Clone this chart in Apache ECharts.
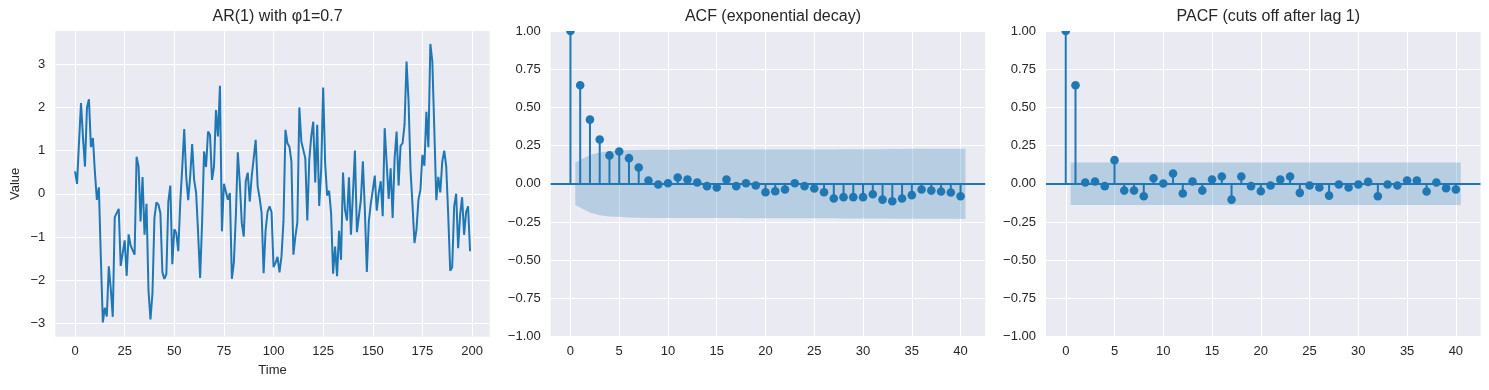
<!DOCTYPE html>
<html>
<head>
<meta charset="utf-8">
<script src="https://cdn.jsdelivr.net/npm/echarts@6/dist/echarts.min.js"></script>
<style>
html,body{margin:0;padding:0;background:#fff;}
#c{width:1489px;height:390px;}
</style>
</head>
<body>
<div id="c"></div>
<script>
// ---- data ----
const arValues = [
0.52, 0.23, 1.2, 2.1, 1.3, 0.63, 2.0, 2.19, 1.08, 1.29,
0.5, -0.14, 0.15, -1.5, -2.98, -2.64, -2.84, -1.68, -2.2, -2.85,
-0.54, -0.56, -0.35, -1.67, -1.70, -1.08, -1.9, -0.94, -1.2, -1.23,
-1.41, 0.86, 0.63, -0.64, 0.39, -0.95, -0.23, -2.24, -2.91, -2.3,
-0.56, -0.2, -0.25, -0.45, -1.82, -1.97, -1.86, -0.18, 0.19, -1.63,
-0.82, -0.91, -1.33, -0.2, 0.6, 1.5, 0.4, -0.15, 0.4, 1.15,
0.32, 0.02, -0.91, -1.95, -0.68, 0.98, 0.62, 1.44, 1.36, 0.32,
0.63, 1.94, 1.33, 2.5, -0.87, 0.23, 0.25, -0.14, 0.02, -1.97,
-1.6, -0.52, 0.96, 0.25, -0.68, -0.99, 0.29, 0.49, -0.18, 0.4,
0.39, 1.25, 0.17, -0.1, -0.45, -1.84, -0.85, -0.41, -0.29, -0.43,
-1.7, -1.6, -1.46, -1.82, -1.45, -0.64, 1.48, 1.17, 1.09, 0.75,
-1.41, -0.99, -0.66, 2.0, 1.21, 1.17, 0.82, -0.62, 0.79, 1.33,
1.67, 0.26, 1.6, -0.28, 0.56, 2.46, 0.71, -0.04, 0.07, -0.45,
-1.85, -1.22, -1.91, -0.86, -1.53, 0.49, -0.37, -0.62, 0.38, -0.95,
0.0, 1.0, -0.89, -0.52, -0.14, 0.75, -0.37, -1.81, -0.64, -0.22,
0.08, 0.42, -0.39, 0.02, 0.29, -0.52, 1.52, 1.53, -0.12, 0.59,
-0.56, 0.82, 1.44, 0.19, 1.11, 1.17, 1.6, 3.06, 2.17, 0.56,
-0.25, -1.14, -0.83, -0.14, 0.09, 0.9, 0.65, 1.9, 1.08, 3.47,
3.06, 1.48, -0.15, 0.39, 0.03, 0.75, 1.0, 0.63, -0.49, -1.78,
-1.7, -0.29, 0.0, -1.26, -0.49, -0.08, -0.95, -0.43, -0.29, -1.33
];

const acfValues = [
1.0, 0.645, 0.42, 0.29, 0.186, 0.212, 0.168, 0.107, 0.022, -0.004,
0.004, 0.042, 0.028, 0.009, -0.015, -0.024, 0.028, -0.015, 0.004, -0.011,
-0.055, -0.048, -0.037, 0.004, -0.015, -0.03, -0.055, -0.096, -0.087, -0.087,
-0.087, -0.068, -0.103, -0.114, -0.096, -0.074, -0.037, -0.044, -0.05, -0.057,
-0.081
];

const pacfValues = [
1.0, 0.645, 0.009, 0.015, -0.015, 0.155, -0.044, -0.044, -0.081, 0.037,
0.002, 0.068, -0.063, 0.015, -0.044, 0.028, 0.048, -0.103, 0.048, -0.015,
-0.048, -0.011, 0.028, 0.048, -0.059, -0.011, -0.024, -0.077, -0.004, -0.024,
-0.004, 0.013, -0.081, -0.004, -0.011, 0.022, 0.022, -0.05, 0.009, -0.028,
-0.037
];

// half-width of confidence band for lags 1..40 (ACF)
const acfBand = [
0.139, 0.188, 0.205, 0.213, 0.216, 0.220, 0.222, 0.223, 0.223, 0.223,
0.223, 0.224, 0.224, 0.224, 0.224, 0.224, 0.224, 0.225, 0.225, 0.225,
0.225, 0.225, 0.225, 0.225, 0.225, 0.225, 0.225, 0.226, 0.226, 0.227,
0.227, 0.227, 0.228, 0.228, 0.229, 0.229, 0.229, 0.229, 0.229, 0.230
];
const pacfBand = [
0.139, 0.139, 0.139, 0.139, 0.139, 0.139, 0.139, 0.139, 0.139, 0.139,
0.139, 0.139, 0.139, 0.139, 0.139, 0.139, 0.139, 0.139, 0.139, 0.139,
0.139, 0.139, 0.139, 0.139, 0.139, 0.139, 0.139, 0.139, 0.139, 0.139,
0.139, 0.139, 0.139, 0.139, 0.139, 0.139, 0.139, 0.139, 0.139, 0.139
];

const timeTicks = [0, 25, 50, 75, 100, 125, 150, 175, 200];
const valueTicks = [-3, -2, -1, 0, 1, 2, 3];
const lagTicks = [0, 5, 10, 15, 20, 25, 30, 35, 40];
const titles = ['AR(1) with \u03c61=0.7', 'ACF (exponential decay)', 'PACF (cuts off after lag 1)'];

// ---- styling / layout ----
const BLUE = '#1f77b4';
const TXT = '#262626';
const FONT = '"Liberation Sans", Arial, sans-serif';
const grids = [
  {left: 55.3, top: 31, width: 434.5, height: 305.7},
  {left: 550.7, top: 31, width: 434.5, height: 305.7},
  {left: 1046, top: 31, width: 434.5, height: 305.7}
];
const minus = v => String(v).replace('-', '\u2212');
const fmt2 = v => minus(v.toFixed(2));

function baseAxis(extra) {
  return Object.assign({
    axisLine: {show: false},
    axisTick: {show: false},
    splitLine: {show: true, lineStyle: {color: '#ffffff', width: 1}},
    axisLabel: {color: TXT, fontSize: 13, fontFamily: FONT}
  }, extra);
}

const xAxes = [
  baseAxis({type: 'value', gridIndex: 0, min: -9.95, max: 208.95,
    axisTick: {show: false, customValues: timeTicks},
    axisLabel: {color: TXT, fontSize: 13, fontFamily: FONT, margin: 8, customValues: timeTicks, formatter: v => minus(v)},
    name: 'Time', nameLocation: 'middle', nameGap: 27,
    nameTextStyle: {color: TXT, fontSize: 13, fontFamily: FONT}}),
  baseAxis({type: 'value', gridIndex: 1, min: -2.025, max: 42.525,
    axisTick: {show: false, customValues: lagTicks},
    axisLabel: {color: TXT, fontSize: 13, fontFamily: FONT, margin: 8, customValues: lagTicks}}),
  baseAxis({type: 'value', gridIndex: 2, min: -2.025, max: 42.525,
    axisTick: {show: false, customValues: lagTicks},
    axisLabel: {color: TXT, fontSize: 13, fontFamily: FONT, margin: 8, customValues: lagTicks}})
];
const yAxes = [
  baseAxis({type: 'value', gridIndex: 0, min: -3.31, max: 3.77,
    axisTick: {show: false, customValues: valueTicks},
    axisLabel: {color: TXT, fontSize: 13, fontFamily: FONT, margin: 10, customValues: valueTicks, formatter: v => minus(v)},
    name: 'Value', nameLocation: 'middle', nameGap: 33, nameRotate: 90,
    nameTextStyle: {color: TXT, fontSize: 13, fontFamily: FONT}}),
  baseAxis({type: 'value', gridIndex: 1, min: -1, max: 1, interval: 0.25,
    axisLabel: {color: TXT, fontSize: 13, fontFamily: FONT, margin: 10, formatter: fmt2}}),
  baseAxis({type: 'value', gridIndex: 2, min: -1, max: 1, interval: 0.25,
    axisLabel: {color: TXT, fontSize: 13, fontFamily: FONT, margin: 10, formatter: fmt2}})
];

function bandSeries(idx, band) {
  // band drawn from lag 1 (shifted to 0.5) to lag 40 (shifted to 40.5)
  const xs = band.map((_, i) => i + 1);
  xs[0] -= 0.5; xs[xs.length - 1] += 0.5;
  return {
    type: 'custom', xAxisIndex: idx, yAxisIndex: idx, silent: true, z: 1,
    data: [[0, 0]],
    renderItem: (params, api) => {
      const up = xs.map((x, i) => api.coord([x, band[i]]));
      const lo = xs.map((x, i) => api.coord([x, -band[i]])).reverse();
      return {type: 'polygon', shape: {points: up.concat(lo)},
        style: {fill: 'rgba(31,119,180,0.25)'}};
    },
    markLine: {silent: true, symbol: 'none', label: {show: false},
      lineStyle: {color: BLUE, width: 2, type: 'solid'},
      data: [{yAxis: 0}], animation: false}
  };
}

function stemSeries(idx, vals) {
  return {
    type: 'custom', xAxisIndex: idx, yAxisIndex: idx, silent: true, z: 3, clip: true,
    data: vals.map((v, i) => [i, v]),
    renderItem: (params, api) => {
      const x = api.value(0), y = api.value(1);
      const p0 = api.coord([x, 0]), p1 = api.coord([x, y]);
      return {type: 'group', children: [
        {type: 'line', shape: {x1: p0[0], y1: p0[1], x2: p1[0], y2: p1[1]},
          style: {stroke: BLUE, lineWidth: 2}},
        {type: 'circle', shape: {cx: p1[0], cy: p1[1], r: 4.3}, style: {fill: BLUE}}
      ]};
    }
  };
}

const option = {
  animation: false,
  backgroundColor: '#ffffff',
  title: titles.map((t, i) => ({
    text: t, left: grids[i].left + grids[i].width / 2, top: 4, textAlign: 'center',
    textStyle: {color: TXT, fontSize: 16, fontWeight: 'normal', fontFamily: FONT}
  })),
  grid: grids.map(g => Object.assign({show: true, backgroundColor: '#EAEAF2', borderWidth: 0}, g)),
  xAxis: xAxes,
  yAxis: yAxes,
  series: [
    {type: 'line', xAxisIndex: 0, yAxisIndex: 0, showSymbol: false, symbol: 'none',
      lineStyle: {color: BLUE, width: 2}, data: arValues.map((v, i) => [i, v]), z: 2},
    bandSeries(1, acfBand),
    stemSeries(1, acfValues),
    bandSeries(2, pacfBand),
    stemSeries(2, pacfValues)
  ]
};
const chart = echarts.init(document.getElementById('c'), null, {renderer: 'canvas'});
chart.setOption(option);
</script>
</body>
</html>
